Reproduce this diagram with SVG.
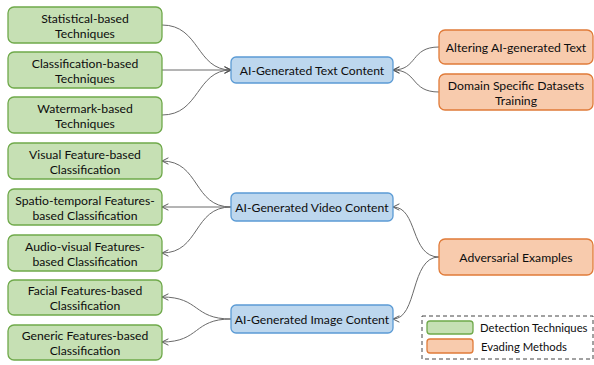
<svg xmlns="http://www.w3.org/2000/svg" width="594" height="365" viewBox="0 0 594 365">
<defs>
<marker id="arr" viewBox="0 0 10 10" refX="9" refY="5" markerWidth="8" markerHeight="8" orient="auto" markerUnits="userSpaceOnUse">
<path d="M1,1 L9,5 L1,9" fill="none" stroke="#555" stroke-width="1.2"/>
</marker>
<style>
.g{fill:#c6e0b4;stroke:#6fa94a;stroke-width:1.3}
.b{fill:#bdd7ee;stroke:#5b9bd5;stroke-width:1.3}
.o{fill:#f8cbad;stroke:#e07b39;stroke-width:1.3}
text{font-family:Lato,"Liberation Sans",sans-serif;font-size:12.2px;fill:#0d0d0d;text-anchor:middle;dominant-baseline:central}
.lg{font-size:11.3px;text-anchor:start}
.c{fill:none;stroke:#6a6a6a;stroke-width:1;marker-end:url(#arr)}
</style>
</defs>
<rect width="594" height="365" fill="#fff"/>
<g id="connectors">
<path class="c" d="M162,25 C200,25 196,70 231,70"/>
<path class="c" d="M162,70 L231,70"/>
<path class="c" d="M162,115 C200,115 196,70 231,70"/>
<path class="c" d="M439,47 C410,47 418,70 393,70"/>
<path class="c" d="M439,92 C410,92 418,70 393,70"/>
<path class="c" d="M231,207 C193,207 200,161 162,161"/>
<path class="c" d="M231,207 L162,207"/>
<path class="c" d="M231,207 C193,207 200,253 162,253"/>
<path class="c" d="M231,319 C193,319 200,297 162,297"/>
<path class="c" d="M231,319 C193,319 200,342 162,342"/>
<path class="c" d="M439,257 C410,257 418,207 393,207"/>
<path class="c" d="M439,257 C410,257 418,319 393,319"/>
</g>
<g id="stat"><rect class="g" x="8" y="7" width="154" height="36" rx="6"/><text x="85" y="18">Statistical-based</text><text x="85" y="33">Techniques</text></g>
<g id="class"><rect class="g" x="8" y="52" width="154" height="36" rx="6"/><text x="85" y="63">Classification-based</text><text x="85" y="78">Techniques</text></g>
<g id="water"><rect class="g" x="8" y="97" width="154" height="36" rx="6"/><text x="85" y="108">Watermark-based</text><text x="85" y="123">Techniques</text></g>
<g id="textcontent"><rect class="b" x="231" y="57" width="162" height="26" rx="5"/><text x="312" y="70">AI-Generated Text Content</text></g>
<g id="altering"><rect class="o" x="439" y="30" width="154" height="34" rx="6"/><text x="516" y="47">Altering AI-generated Text</text></g>
<g id="domain"><rect class="o" x="439" y="74" width="154" height="36" rx="6"/><text x="516" y="85">Domain Specific Datasets</text><text x="516" y="100">Training</text></g>
<g id="visual"><rect class="g" x="8" y="143" width="154" height="36" rx="6"/><text x="85" y="154">Visual Feature-based</text><text x="85" y="169">Classification</text></g>
<g id="spatio"><rect class="g" x="8" y="189" width="154" height="36" rx="6"/><text x="85" y="200">Spatio-temporal Features-</text><text x="85" y="215">based Classification</text></g>
<g id="audio"><rect class="g" x="8" y="235" width="154" height="36" rx="6"/><text x="85" y="246">Audio-visual Features-</text><text x="85" y="261">based Classification</text></g>
<g id="videocontent"><rect class="b" x="231" y="193" width="162" height="28" rx="5"/><text x="312" y="207">AI-Generated Video Content</text></g>
<g id="adversarial"><rect class="o" x="439" y="239" width="154" height="36" rx="6"/><text x="516" y="257">Adversarial Examples</text></g>
<g id="facial"><rect class="g" x="8" y="280" width="154" height="35" rx="6"/><text x="85" y="290">Facial Features-based</text><text x="85" y="305">Classification</text></g>
<g id="generic"><rect class="g" x="8" y="325" width="154" height="35" rx="6"/><text x="85" y="335">Generic Features-based</text><text x="85" y="350">Classification</text></g>
<g id="imagecontent"><rect class="b" x="231" y="305" width="162" height="28" rx="5"/><text x="312" y="319">AI-Generated Image Content</text></g>
<g id="legend">
<rect x="422" y="316" width="171" height="43" fill="#fff" stroke="#444" stroke-width="1" stroke-dasharray="4,3"/>
<rect class="g" x="427" y="321" width="46" height="13" rx="3"/>
<rect class="o" x="427" y="339" width="46" height="14" rx="3"/>
<text class="lg" x="480" y="327">Detection Techniques</text>
<text class="lg" x="481" y="346">Evading Methods</text>
</g>
</svg>
